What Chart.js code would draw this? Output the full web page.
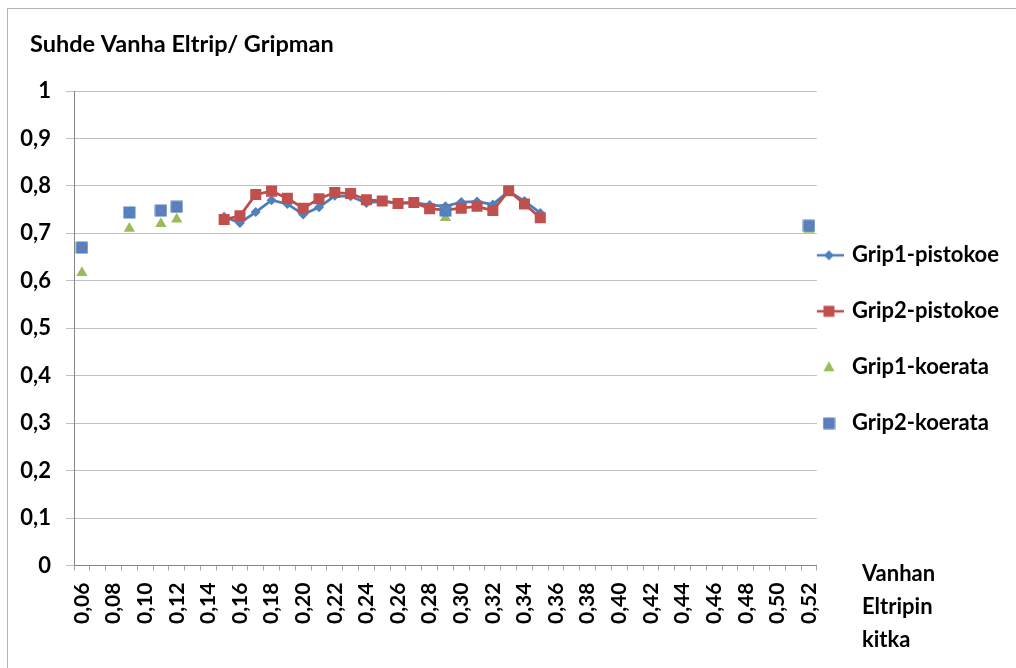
<!DOCTYPE html>
<html>
<head>
<meta charset="utf-8">
<script src="https://cdn.jsdelivr.net/npm/chart.js@4.4.1/dist/chart.umd.min.js"></script>
<style>
  body { margin: 0; background: #fff; }
  #wrap { position: relative; width: 1016px; height: 668px; overflow: hidden; }
  #frame { position: absolute; left: 7px; top: 8px; width: 1100px; height: 700px;
           border-left: 1px solid #b3b3b3; border-top: 1px solid #b3b3b3; }
  canvas { position: absolute; left: 0; top: 0; }
</style>
</head>
<body>
<div id="wrap">
  <div id="frame"></div>
  <canvas id="chart" width="1016" height="668"></canvas>
</div>
<script>
const categories = ['0,06','0,07','0,08','0,09','0,10','0,11','0,12','0,13','0,14','0,15','0,16','0,17',
  '0,18','0,19','0,20','0,21','0,22','0,23','0,24','0,25','0,26','0,27','0,28','0,29','0,30','0,31',
  '0,32','0,33','0,34','0,35','0,36','0,37','0,38','0,39','0,40','0,41','0,42','0,43','0,44','0,45',
  '0,46','0,47','0,48','0,49','0,50','0,51','0,52'];

const pistoX = ['0,15','0,16','0,17','0,18','0,19','0,20','0,21','0,22','0,23','0,24','0,25',
  '0,26','0,27','0,28','0,29','0,30','0,31','0,32','0,33','0,34','0,35'];
const grip1Pisto = [0.735, 0.722, 0.745, 0.770, 0.762, 0.740, 0.755, 0.779, 0.778, 0.764, 0.768,
  0.764, 0.765, 0.760, 0.757, 0.766, 0.767, 0.761, 0.789, 0.768, 0.743];
const grip2Pisto = [0.729, 0.737, 0.782, 0.789, 0.774, 0.753, 0.773, 0.786, 0.784, 0.771, 0.768,
  0.763, 0.765, 0.752, 0.749, 0.753, 0.757, 0.748, 0.790, 0.762, 0.733];

const koeX = ['0,06','0,09','0,11','0,12','0,29','0,52'];
const grip1Koe = [0.617, 0.710, 0.720, 0.730, 0.733, 0.708];
const grip2Koe = [0.670, 0.744, 0.748, 0.756, 0.748, 0.716];

const yTicks = ['0','0,1','0,2','0,3','0,4','0,5','0,6','0,7','0,8','0,9','1'];
const seriesNames = ['Grip1-pistokoe', 'Grip2-pistokoe', 'Grip1-koerata', 'Grip2-koerata'];
const chartTitle = 'Suhde Vanha Eltrip/ Gripman';
const xTitle = ['Vanhan', 'Eltripin', 'kitka'];

const FONT = 'Lato, "Open Sans", sans-serif';
const BLUE = '#4F81BD', BLUE_LINE = '#4A7EBB';
const RED = '#C0504D', RED_LINE = '#BE4B48';
const GREEN = '#9BBB59';

function pairs(xs, ys) {
  return xs.map((x, i) => ({ x: x, y: ys[i] }));
}

// blue square with the thin purple cross on top, as in the original
function koeSquare() {
  const c = document.createElement('canvas');
  c.width = 13; c.height = 13;
  const g = c.getContext('2d');
  g.fillStyle = BLUE;
  g.fillRect(0.5, 0.5, 12, 12);
  g.strokeStyle = '#9a72b8';
  g.lineWidth = 1;
  g.beginPath();
  g.moveTo(2, 2); g.lineTo(11, 11);
  g.moveTo(11, 2); g.lineTo(2, 11);
  g.stroke();
  return c;
}

function legendIcon(kind) {
  const c = document.createElement('canvas');
  c.width = 30; c.height = 14;
  const g = c.getContext('2d');
  const cx = 15, cy = 7;
  if (kind === 'diamond' || kind === 'square') {
    g.strokeStyle = kind === 'diamond' ? BLUE_LINE : RED_LINE;
    g.lineWidth = 2.5;
    g.beginPath(); g.moveTo(0, cy); g.lineTo(30, cy); g.stroke();
  }
  if (kind === 'diamond') {
    g.fillStyle = BLUE;
    g.beginPath();
    g.moveTo(cx, cy - 5); g.lineTo(cx + 5, cy); g.lineTo(cx, cy + 5); g.lineTo(cx - 5, cy);
    g.closePath(); g.fill();
  } else if (kind === 'square') {
    g.fillStyle = RED;
    g.fillRect(cx - 5.5, cy - 5.5, 11, 11);
  } else if (kind === 'triangle') {
    g.fillStyle = GREEN;
    g.beginPath();
    g.moveTo(cx, cy - 6); g.lineTo(cx + 5.5, cy + 4); g.lineTo(cx - 5.5, cy + 4);
    g.closePath(); g.fill();
  } else {
    g.drawImage(koeSquare(), cx - 6.5, cy - 6.5);
  }
  return c;
}

const legendIcons = [legendIcon('diamond'), legendIcon('square'), legendIcon('triangle'), legendIcon('koe')];
const koeMarker = koeSquare();

// chart title at the top left and the x axis name beside the last tick
const extraTexts = {
  id: 'extraTexts',
  afterDraw(chart) {
    const ctx = chart.ctx;
    ctx.save();
    ctx.fillStyle = '#000';
    ctx.textBaseline = 'middle';
    ctx.textAlign = 'left';
    ctx.font = 'bold 23.5px ' + FONT;
    ctx.fillText(chartTitle, 30, 44);
    ctx.font = 'bold 22px ' + FONT;
    ctx.fillText(xTitle[0], 862, 574);
    ctx.fillText(xTitle[1], 862, 607);
    ctx.fillText(xTitle[2], 862, 640);
    ctx.restore();
  }
};

new Chart(document.getElementById('chart'), {
  type: 'line',
  data: {
    labels: categories,
    datasets: [
      {
        label: seriesNames[0],
        data: pairs(pistoX, grip1Pisto),
        borderColor: BLUE_LINE,
        borderWidth: 2.75,
        pointStyle: 'rectRot',
        pointRadius: 5,
        pointBackgroundColor: BLUE,
        pointBorderColor: BLUE,
        pointBorderWidth: 0,
        order: 3
      },
      {
        label: seriesNames[1],
        data: pairs(pistoX, grip2Pisto),
        borderColor: RED_LINE,
        borderWidth: 2.75,
        pointStyle: 'rect',
        pointRadius: 7.8,
        pointBackgroundColor: RED,
        pointBorderColor: RED,
        pointBorderWidth: 0,
        order: 2
      },
      {
        label: seriesNames[2],
        data: pairs(koeX, grip1Koe),
        showLine: false,
        pointStyle: 'triangle',
        pointRadius: 6.5,
        pointBackgroundColor: GREEN,
        pointBorderColor: GREEN,
        pointBorderWidth: 0,
        order: 1
      },
      {
        label: seriesNames[3],
        data: pairs(koeX, grip2Koe),
        showLine: false,
        pointStyle: koeMarker,
        pointRadius: 6,
        pointBackgroundColor: BLUE,
        pointBorderColor: BLUE,
        order: 0
      }
    ]
  },
  options: {
    responsive: false,
    animation: false,
    devicePixelRatio: 1,
    layout: { padding: { left: 18, top: 91, right: 7, bottom: 32 } },
    plugins: {
      title: { display: false },
      legend: {
        position: 'right',
        fullSize: false,
        title: { display: true, text: ' ', font: { size: 20 }, padding: 16 },
        labels: {
          usePointStyle: true,
          pointStyleWidth: 24,
          color: '#000',
          padding: 0,
          font: { family: FONT, size: 22, weight: 'bold', lineHeight: 56 / 22 },
          generateLabels: (chart) => chart.data.datasets.map((ds, i) => ({
            text: [ds.label],
            pointStyle: legendIcons[i],
            fillStyle: 'transparent',
            strokeStyle: 'transparent',
            lineWidth: 0,
            hidden: !chart.isDatasetVisible(i),
            datasetIndex: i,
            fontColor: '#000'
          }))
        }
      },
      tooltip: { enabled: false }
    },
    scales: {
      x: {
        type: 'category',
        offset: true,
        grid: {
          offset: true,
          drawOnChartArea: false,
          drawTicks: true,
          tickLength: 5,
          color: '#a6a6a6'
        },
        border: { color: '#868686', width: 1 },
        ticks: {
          autoSkip: false,
          maxRotation: 90,
          minRotation: 90,
          padding: 12,
          color: '#000',
          font: { family: FONT, size: 21, weight: 'bold' },
          callback: (v, i) => (i % 2 === 0 ? categories[i] : '')
        }
      },
      y: {
        min: 0,
        max: 1,
        afterFit: (scale) => { scale.width = 56; },
        grid: { color: '#c0c0c0', tickLength: 8 },
        border: { color: '#868686', width: 1 },
        ticks: {
          stepSize: 0.1,
          padding: 15,
          color: '#000',
          font: { family: FONT, size: 22, weight: 'bold' },
          callback: (v) => yTicks[Math.round(v * 10)]
        }
      }
    }
  },
  plugins: [extraTexts]
});
</script>
</body>
</html>
